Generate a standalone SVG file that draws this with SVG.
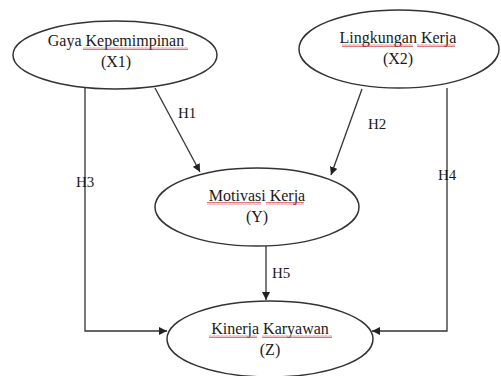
<svg xmlns="http://www.w3.org/2000/svg" width="501" height="376" viewBox="0 0 501 376">
<style>
.node ellipse{fill:#fff;stroke:#333;stroke-width:1.5}
.lbl{font-family:"Liberation Serif","Times New Roman",serif;font-size:16px;fill:#1a1a1a;text-anchor:middle}
.h{font-family:"Liberation Serif","Times New Roman",serif;font-size:15px;fill:#1a1a1a}
.conn path{fill:none;stroke:#333;stroke-width:1.3}
.sq{fill:url(#wave)}
</style>
<defs>
<marker id="arr" viewBox="0 0 10 10" refX="10" refY="5" markerWidth="8" markerHeight="8" markerUnits="userSpaceOnUse" orient="auto">
<path d="M0,0 L10,5 L0,10 Z" fill="#222"/>
</marker>
<pattern id="wave" width="4" height="3" patternUnits="userSpaceOnUse">
<path d="M0,2.5 L1,0.5 L2,2.5 L3,0.5 L4,2.5" fill="none" stroke="#d04040" stroke-width="0.7"/>
</pattern>
</defs>
<rect width="501" height="376" fill="#fff"/>
<g class="conn">
<path d="M155,88 L200,172" marker-end="url(#arr)"/>
<path d="M362,89 L331,175" marker-end="url(#arr)"/>
<path d="M85,88 V331 H167" marker-end="url(#arr)"/>
<path d="M447,88 V331 H372" marker-end="url(#arr)"/>
<path d="M266,245 V300" marker-end="url(#arr)"/>
</g>
<g id="x1" class="node">
<ellipse cx="115" cy="55" rx="102" ry="34"/>
<text class="lbl" x="116" y="46">Gaya Kepemimpinan</text>
<text class="lbl" x="116" y="67">(X1)</text>
<rect class="sq" x="83" y="47" width="105" height="3"/>
</g>
<g id="x2" class="node">
<ellipse cx="399" cy="49" rx="100" ry="39"/>
<text class="lbl" x="398" y="43">Lingkungan Kerja</text>
<text class="lbl" x="398" y="64">(X2)</text>
<rect class="sq" x="342" y="44" width="71" height="3"/>
<rect class="sq" x="417" y="44" width="38" height="3"/>
</g>
<g id="y" class="node">
<ellipse cx="257" cy="207" rx="102" ry="39"/>
<text class="lbl" x="257" y="201">Motivasi Kerja</text>
<text class="lbl" x="257" y="222">(Y)</text>
<rect class="sq" x="207" y="202" width="54" height="3"/>
<rect class="sq" x="266" y="202" width="38" height="3"/>
</g>
<g id="z" class="node">
<ellipse cx="270" cy="339" rx="103" ry="38"/>
<text class="lbl" x="270" y="334">Kinerja Karyawan</text>
<text class="lbl" x="270" y="355">(Z)</text>
<rect class="sq" x="209" y="335" width="48" height="3"/>
<rect class="sq" x="262" y="335" width="70" height="3"/>
</g>
<g id="labels">
<text class="h" x="178" y="118">H1</text>
<text class="h" x="368" y="129">H2</text>
<text class="h" x="76" y="187">H3</text>
<text class="h" x="438" y="180">H4</text>
<text class="h" x="272" y="278">H5</text>
</g>
</svg>
